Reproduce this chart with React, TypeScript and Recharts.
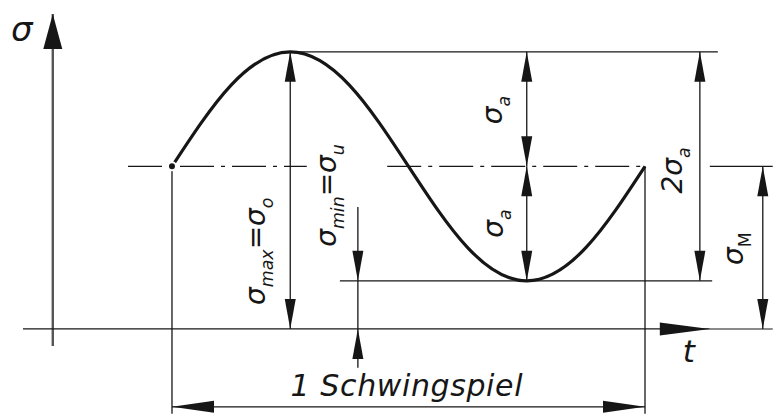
import { LineChart, Line, XAxis, YAxis, ReferenceLine, ReferenceDot } from "recharts";

// one stress cycle: t as a fraction of the period, σ in multiples of σa
const cycleT = [0, 0.125, 0.25, 0.375, 0.5, 0.625, 0.75, 0.875, 1];
const cycleSigma = [1.42, 2.13, 2.42, 2.13, 1.42, 0.71, 0.42, 0.71, 1.42];

// stress levels of the cycle
const sigmaMax = 2.42;
const sigmaMean = 1.42;
const sigmaMin = 0.42;
const peakT = 0.25;
const troughT = 0.75;

// axes, extension and dimension lines (t, σ)
const sigmaAxisT = -0.252;
const sigmaAxisSpan = [-0.15, 2.75];
const timeAxisSpan = [-0.315, 1.137];
const baseLineEnd = 1.27;
const meanLineRuns = [
  [-0.093, 0.285],
  [0.455, 1],
  [1.137, 1.27],
];
const maxLineEnd = 1.154;
const minLineSpan = [0.355, 1.142];
const extensionBottom = -0.74;
const minDimT = 0.393;
const minDimSpan = [1.065, -0.34];
const twoAmpT = 1.116;
const meanDimT = 1.249;
const cycleDimSigma = -0.68;

// lettering
type Part = [string, string];
const axisLabel: Part[] = [["σ", ""]];
const timeLabel: Part[] = [["t", ""]];
const maxLabel: Part[] = [["σ", "max"], ["=", ""], ["σ", "o"]];
const minLabel: Part[] = [["σ", "min"], ["=", ""], ["σ", "u"]];
const ampLabel: Part[] = [["σ", "a"]];
const rangeLabel: Part[] = [["2σ", "a"]];
const meanLabel: Part[] = [["σ", "M"]];
const cycleLabel = "1 Schwingspiel";

const data = cycleT.map((t, i) => ({ t, sigma: cycleSigma[i] }));

const FONT = "'DejaVu Sans', sans-serif";
const INK = "#161616";

type Heads = "start" | "end" | "both" | "none";

function headPoints(tx: number, ty: number, fx: number, fy: number, len: number, half: number) {
  const dx = tx - fx;
  const dy = ty - fy;
  const d = Math.hypot(dx, dy) || 1;
  const ux = dx / d;
  const uy = dy / d;
  const bx = tx - ux * len;
  const by = ty - uy * len;
  return `${tx},${ty} ${bx - uy * half},${by + ux * half} ${bx + uy * half},${by - ux * half}`;
}

const dimShape =
  (heads: Heads, opt: { w?: number; len?: number; half?: number; color?: string; dash?: string } = {}) =>
  (p: any) => {
    const { x1, y1, x2, y2 } = p;
    const w = opt.w ?? 1.3;
    const len = opt.len ?? 30;
    const half = opt.half ?? 5.5;
    const color = opt.color ?? INK;
    return (
      <g>
        <line x1={x1} y1={y1} x2={x2} y2={y2} stroke={color} strokeWidth={w} strokeDasharray={opt.dash} />
        {(heads === "start" || heads === "both") && (
          <polygon points={headPoints(x1, y1, x2, y2, len, half)} fill={INK} />
        )}
        {(heads === "end" || heads === "both") && (
          <polygon points={headPoints(x2, y2, x1, y1, len, half)} fill={INK} />
        )}
      </g>
    );
  };

const lettering =
  (parts: Part[], o: { dx: number; dy: number; size?: number; rotate?: boolean; anchor?: "start" | "middle" | "end" }) =>
  (p: any) => {
    const size = o.size ?? 28;
    const cx = p.cx + o.dx;
    const cy = p.cy + o.dy;
    const sub = size * 0.62;
    const shift = size * 0.28;
    const spans: any[] = [];
    parts.forEach(([main, low], i) => {
      const back = i > 0 && parts[i - 1][1] ? -shift : 0;
      spans.push(
        <tspan key={`m${i}`} fontSize={size} dy={back}>
          {main}
        </tspan>
      );
      if (low)
        spans.push(
          <tspan key={`s${i}`} fontSize={sub} dy={shift} fontStyle={low === "M" ? "normal" : "italic"}>
            {low}
          </tspan>
        );
    });
    return (
      <text
        x={cx}
        y={cy + size * 0.36}
        transform={o.rotate ? `rotate(-90 ${cx} ${cy})` : undefined}
        textAnchor={o.anchor ?? "middle"}
        fontFamily={FONT}
        fontStyle="italic"
        fill={INK}
      >
        {spans}
      </text>
    );
  };

const seg = (x1: number, y1: number, x2: number, y2: number) => [
  { x: x1, y: y1 },
  { x: x2, y: y2 },
];

export default function App() {
  return (
    <div style={{ position: "fixed", left: 0, top: 0, width: 773, height: 414, background: "#fff" }}>
      <LineChart width={773} height={414} data={data} margin={{ top: 0, right: 0, bottom: 0, left: 0 }}>
        <XAxis dataKey="t" type="number" domain={[-0.3636, 1.2706]} allowDataOverflow hide />
        <YAxis type="number" domain={[-0.743, 2.873]} allowDataOverflow hide />

        {/* axes */}
        <ReferenceLine
          ifOverflow="visible"
          segment={seg(sigmaAxisT, sigmaAxisSpan[0], sigmaAxisT, sigmaAxisSpan[1])}
          shape={dimShape("end", { w: 2.4, len: 35, half: 9.5, color: "#555" })}
        />
        <ReferenceLine
          ifOverflow="visible"
          segment={seg(timeAxisSpan[0], 0, timeAxisSpan[1], 0)}
          shape={dimShape("end", { w: 1.3, len: 50, half: 6.5 })}
        />
        <ReferenceLine
          ifOverflow="visible"
          segment={seg(timeAxisSpan[1], 0, baseLineEnd, 0)}
          shape={dimShape("none", { w: 1.1 })}
        />

        {/* level lines */}
        {meanLineRuns.map(([a, b], i) => (
          <ReferenceLine
            key={`mean${i}`}
            ifOverflow="visible"
            segment={seg(a, sigmaMean, b, sigmaMean)}
            shape={dimShape("none", { w: 1.1, dash: i === 2 ? undefined : "34 7 4 7" })}
          />
        ))}
        <ReferenceLine
          ifOverflow="visible"
          segment={seg(peakT, sigmaMax, maxLineEnd, sigmaMax)}
          shape={dimShape("none", { w: 1.1 })}
        />
        <ReferenceLine
          ifOverflow="visible"
          segment={seg(minLineSpan[0], sigmaMin, minLineSpan[1], sigmaMin)}
          shape={dimShape("none", { w: 1.1 })}
        />
        <ReferenceLine
          ifOverflow="visible"
          segment={seg(0, sigmaMean, 0, extensionBottom)}
          shape={dimShape("none", { w: 1.3 })}
        />
        <ReferenceLine
          ifOverflow="visible"
          segment={seg(1, sigmaMean, 1, extensionBottom)}
          shape={dimShape("none", { w: 1.3 })}
        />

        {/* dimensions */}
        <ReferenceLine
          ifOverflow="visible"
          segment={seg(peakT, sigmaMax, peakT, 0)}
          shape={dimShape("both")}
        />
        <ReferenceLine
          ifOverflow="visible"
          segment={seg(minDimT, minDimSpan[0], minDimT, sigmaMin)}
          shape={dimShape("end")}
        />
        <ReferenceLine
          ifOverflow="visible"
          segment={seg(minDimT, sigmaMin, minDimT, 0)}
          shape={dimShape("none")}
        />
        <ReferenceLine
          ifOverflow="visible"
          segment={seg(minDimT, minDimSpan[1], minDimT, 0)}
          shape={dimShape("end")}
        />
        <ReferenceLine
          ifOverflow="visible"
          segment={seg(troughT, sigmaMax, troughT, sigmaMean)}
          shape={dimShape("both")}
        />
        <ReferenceLine
          ifOverflow="visible"
          segment={seg(troughT, sigmaMean, troughT, sigmaMin)}
          shape={dimShape("both")}
        />
        <ReferenceLine
          ifOverflow="visible"
          segment={seg(twoAmpT, sigmaMax, twoAmpT, sigmaMin)}
          shape={dimShape("both")}
        />
        <ReferenceLine
          ifOverflow="visible"
          segment={seg(meanDimT, sigmaMean, meanDimT, 0)}
          shape={dimShape("both")}
        />
        <ReferenceLine
          ifOverflow="visible"
          segment={seg(0, cycleDimSigma, 1, cycleDimSigma)}
          shape={dimShape("both", { len: 42, half: 6 })}
        />

        <Line
          type="natural"
          dataKey="sigma"
          stroke={INK}
          strokeWidth={3.2}
          dot={false}
          isAnimationActive={false}
        />

        {/* lettering */}
        <ReferenceDot ifOverflow="visible" x={sigmaAxisT} y={sigmaAxisSpan[1]} shape={lettering(axisLabel, { dx: -31, dy: 15, size: 34 })} />
        <ReferenceDot ifOverflow="visible" x={timeAxisSpan[1]} y={0} shape={lettering(timeLabel, { dx: -21, dy: 22, size: 31 })} />
        <ReferenceDot ifOverflow="visible" x={peakT} y={0} shape={lettering(maxLabel, { dx: -35, dy: -24, rotate: true, anchor: "start" })} />
        <ReferenceDot ifOverflow="visible" x={minDimT} y={sigmaMin} shape={lettering(minLabel, { dx: -32, dy: -34, rotate: true, anchor: "start" })} />
        <ReferenceDot ifOverflow="visible" x={troughT} y={(sigmaMax + sigmaMean) / 2} shape={lettering(ampLabel, { dx: -35, dy: 1, rotate: true })} />
        <ReferenceDot ifOverflow="visible" x={troughT} y={(sigmaMean + sigmaMin) / 2} shape={lettering(ampLabel, { dx: -34, dy: 0, rotate: true })} />
        <ReferenceDot ifOverflow="visible" x={twoAmpT} y={sigmaMean} shape={lettering(rangeLabel, { dx: -28, dy: 4, rotate: true })} />
        <ReferenceDot ifOverflow="visible" x={meanDimT} y={sigmaMean / 2} shape={lettering(meanLabel, { dx: -30, dy: 1, rotate: true })} />
        <ReferenceDot
          ifOverflow="visible"
          x={0.5}
          y={cycleDimSigma}
          shape={(p: any) => (
            <text
              x={p.cx - 2}
              y={p.cy - 11}
              textAnchor="middle"
              fontFamily={FONT}
              fontStyle="italic"
              fontSize={30}
              textLength={232}
              lengthAdjust="spacing"
              fill={INK}
            >
              {cycleLabel}
            </text>
          )}
        />
      </LineChart>
    </div>
  );
}
